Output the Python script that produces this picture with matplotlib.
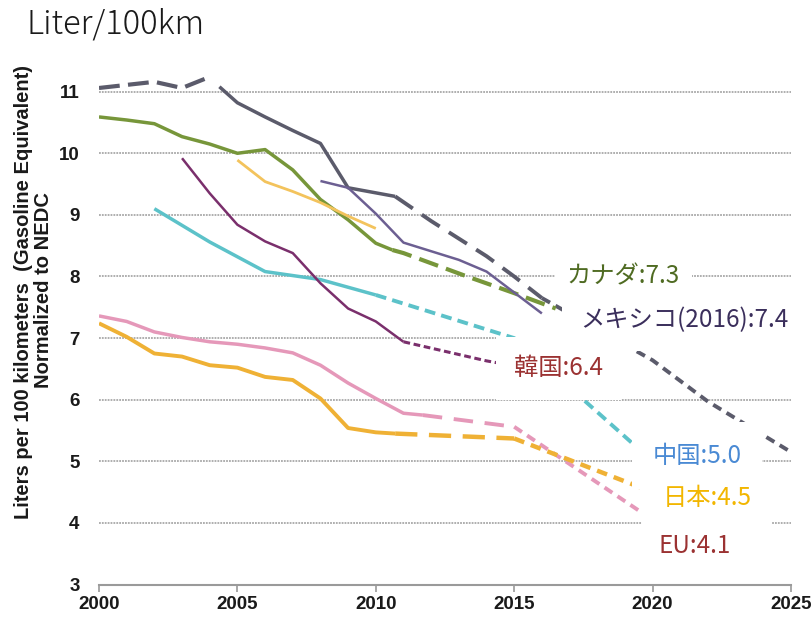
import matplotlib
matplotlib.use("Agg")
import matplotlib.pyplot as plt

# ---- values ----
x_ticks = [2000, 2005, 2010, 2015, 2020, 2025]
y_ticks = [3, 4, 5, 6, 7, 8, 9, 10, 11]

# gray line (no label shown)
us_early_x = [2000, 2002, 2003, 2004]
us_early_y = [11.06, 11.16, 11.06, 11.24]
us_hist_x = [2004.35, 2005, 2006, 2007, 2008, 2009, 2010.7]
us_hist_y = [11.08, 10.82, 10.59, 10.37, 10.16, 9.44, 9.30]
us_tgt1_x = [2010.7, 2012, 2014, 2015, 2016]
us_tgt1_y = [9.30, 8.90, 8.33, 8.00, 7.65]
us_tgt2_x = [2016, 2020, 2022, 2025]
us_tgt2_y = [7.65, 6.64, 5.97, 5.15]

# Mexico
mx_x = [2008, 2009, 2010, 2011, 2013, 2014, 2016]
mx_y = [9.55, 9.44, 9.02, 8.55, 8.27, 8.08, 7.40]

# Canada
ca_hist_x = [2000, 2001, 2002, 2003, 2004, 2005, 2006, 2007, 2008, 2009, 2010, 2010.6]
ca_hist_y = [10.59, 10.54, 10.48, 10.27, 10.15, 10.00, 10.06, 9.73, 9.25, 8.92, 8.54, 8.43]
ca_tgt_x = [2010.6, 2011, 2013.3, 2015, 2016.5]
ca_tgt_y = [8.43, 8.38, 8.00, 7.73, 7.48]

# light orange short series
lo_x = [2005, 2006, 2007, 2008, 2009, 2010]
lo_y = [9.89, 9.54, 9.38, 9.20, 8.98, 8.78]

# China
cn_hist_x = [2002, 2004, 2006, 2008, 2010]
cn_hist_y = [9.10, 8.56, 8.08, 7.95, 7.70]
cn_tgt_x = [2010, 2015, 2020]
cn_tgt_y = [7.70, 7.00, 5.00]

# Korea
kr_hist_x = [2003, 2004, 2005, 2006, 2007, 2008, 2009, 2010, 2011]
kr_hist_y = [9.92, 9.35, 8.84, 8.57, 8.38, 7.89, 7.48, 7.27, 6.94]
kr_tgt_x = [2011, 2014, 2015]
kr_tgt_y = [6.94, 6.63, 6.55]

# EU
eu_hist_x = [2000, 2001, 2002, 2003, 2004, 2005, 2006, 2007, 2008, 2009, 2010, 2011, 2011.7]
eu_hist_y = [7.36, 7.27, 7.10, 7.01, 6.94, 6.90, 6.84, 6.76, 6.56, 6.27, 6.02, 5.78, 5.75]
eu_tgt1_x = [2011.7, 2015]
eu_tgt1_y = [5.75, 5.56]
eu_tgt2_x = [2015, 2020]
eu_tgt2_y = [5.56, 4.05]

# Japan
jp_hist_x = [2000, 2001, 2002, 2003, 2004, 2005, 2006, 2007, 2008, 2009, 2010, 2010.7]
jp_hist_y = [7.24, 7.02, 6.75, 6.70, 6.56, 6.52, 6.37, 6.32, 6.02, 5.54, 5.47, 5.45]
jp_tgt1_x = [2010.7, 2015]
jp_tgt1_y = [5.45, 5.37]
jp_tgt2_x = [2015, 2020]
jp_tgt2_y = [5.37, 4.50]

label_texts = ["カナダ:7.3", "メキシコ(2016):7.4", "韓国:6.4", "中国:5.0", "日本:4.5", "EU:4.1"]

CJK = ['Noto Sans CJK JP', 'DejaVu Sans']

fig = plt.figure(figsize=(8.12, 6.2), dpi=100)
ax = fig.add_axes([99 / 812, 1 - 584.5 / 620, 692 / 812, (584.5 - 73.2) / 620])
ax.set_xlim(2000, 2025)
ax.set_ylim(3, 11.3)


def seg(x, y, color, lw, dashes=None, z=3):
    line, = ax.plot(x, y, color=color, lw=lw, zorder=z,
                    solid_capstyle='butt', solid_joinstyle='round')
    if dashes:
        line.set_dashes(dashes)
        line.set_dash_capstyle('butt')
    return line


gray = "#5b5b6b"
seg(us_early_x, us_early_y, gray, 3, (5, 2))
seg(us_hist_x, us_hist_y, gray, 2.5)
seg(us_tgt1_x, us_tgt1_y, gray, 2.8, (5.5, 2.8))
seg(us_tgt2_x, us_tgt2_y, gray, 2.8, (2.4, 1.6))

seg(mx_x, mx_y, "#6c5f92", 1.8, z=4)

green = "#77963a"
seg(ca_hist_x, ca_hist_y, green, 2.5)
seg(ca_tgt_x, ca_tgt_y, green, 3, (4.8, 2))

seg(lo_x, lo_y, "#f3c35c", 2)

cyan = "#5cc2c9"
seg(cn_hist_x, cn_hist_y, cyan, 2.5)
seg(cn_tgt_x, cn_tgt_y, cyan, 2.8, (2.8, 1.6))

plum = "#7a2f6c"
seg(kr_hist_x, kr_hist_y, plum, 1.8)
seg(kr_tgt_x, kr_tgt_y, plum, 2.2, (2.2, 1.2))

pink = "#e598b9"
seg(eu_hist_x, eu_hist_y, pink, 2.5)
seg(eu_tgt1_x, eu_tgt1_y, pink, 2.8, (5, 3))
seg(eu_tgt2_x, eu_tgt2_y, pink, 2.8, (2.4, 1.6))

orange = "#efb135"
seg(jp_hist_x, jp_hist_y, orange, 2.8)
seg(jp_tgt1_x, jp_tgt1_y, orange, 3.2, (5, 2.6))
seg(jp_tgt2_x, jp_tgt2_y, orange, 3.2, (2.4, 1.6))

# grid + axis
for v in y_ticks[1:]:
    ax.axhline(v, color="#a8a8a8", lw=1.3, ls=(0, (1, 0.6)), zorder=1)
for s in ["top", "right", "left"]:
    ax.spines[s].set_visible(False)
ax.spines["bottom"].set_color("#9a9a9a")
ax.spines["bottom"].set_linewidth(1.5)

tick_font = dict(family=['Liberation Sans Narrow', 'Liberation Sans'], weight='bold', size=13.5)
ax.set_xticks(x_ticks)
ax.set_xticklabels([str(v) for v in x_ticks], fontdict=tick_font, color="#1a1a1a")
ax.set_yticks(y_ticks)
ax.set_yticklabels([str(v) for v in y_ticks], fontdict=tick_font, color="#1a1a1a")
ax.tick_params(axis='x', length=5, width=1.2, color="#9a9a9a", pad=3)
ax.tick_params(axis='y', length=0, pad=14)

# labels
label_colors = ["#4f6b22", "#3b2f5c", "#9b3232", "#4a8ad4", "#f2b600", "#9b3232"]
label_pos = [(2016.9, 8.0), (2017.4, 7.29), (2015.0, 6.51), (2020.0, 5.09), (2020.35, 4.40), (2020.2, 3.63)]
label_pad = [0.5, 0.75, 0.75, 0.85, 0.85, None]
for txt, c, (lx, ly), p in zip(label_texts, label_colors, label_pos, label_pad):
    bb = dict(boxstyle=f"square,pad={p}", fc="white", ec="none") if p else None
    ax.text(lx, ly, txt, color=c, fontsize=17.5, family=CJK, ha='left', va='center',
            bbox=bb, zorder=10)

# title + y label
fig.text(27 / 812, 1 - 24 / 620, "Liter/100km", family=CJK, fontweight='light',
         fontsize=23.5, color="#1a1a1a", ha='left', va='center')
fig.text(24 / 812, 1 - 292 / 620, "Liters per 100 kilometers  (Gasoline Equivalent)",
         rotation=90, ha='center', va='center', family='Liberation Sans',
         weight='bold', fontsize=14.5, color="#1a1a1a")
fig.text(44 / 812, 1 - 290 / 620, "Normalized to NEDC",
         rotation=90, ha='center', va='center', family='Liberation Sans',
         weight='bold', fontsize=14.5, color="#1a1a1a")

fig.savefig("out.png", dpi=100, facecolor="white")
